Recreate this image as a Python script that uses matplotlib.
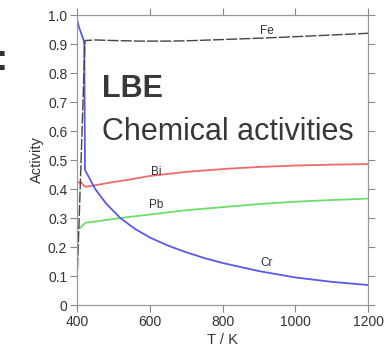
import matplotlib
matplotlib.use("Agg")
import matplotlib.pyplot as plt
import numpy as np

plt.rcParams['font.family'] = ['Liberation Sans', 'DejaVu Sans']

# data
T_fe = [400, 405, 422, 450, 500, 574, 650, 700, 814, 900, 996, 1100, 1200]
a_fe = [0.08, 0.26, 0.912, 0.914, 0.912, 0.910, 0.910, 0.911, 0.916, 0.920, 0.925, 0.931, 0.937]

T_cr = [400, 405, 412, 418, 420, 422, 450, 480, 519, 560, 600, 650, 700, 750, 800, 900, 1000, 1100, 1200]
a_cr = [0.985, 0.96, 0.935, 0.915, 0.90, 0.466, 0.40, 0.35, 0.30, 0.262, 0.233, 0.205, 0.182, 0.162, 0.145, 0.117, 0.095, 0.080, 0.069]

T_bi = [400, 410, 420, 425, 450, 500, 546, 600, 700, 814, 900, 1000, 1100, 1200]
a_bi = [0.42, 0.425, 0.41, 0.408, 0.413, 0.424, 0.433, 0.445, 0.459, 0.470, 0.476, 0.481, 0.484, 0.486]

T_pb = [400, 410, 420, 425, 450, 519, 600, 700, 814, 900, 996, 1100, 1200]
a_pb = [0.264, 0.267, 0.280, 0.284, 0.288, 0.30, 0.312, 0.327, 0.339, 0.348, 0.356, 0.362, 0.367]

labels = {"Fe": (922, 0.945), "Bi": (617, 0.46), "Pb": (617, 0.345), "Cr": (922, 0.145)}

fig = plt.figure(figsize=(3.85, 3.49), dpi=100)
ax = fig.add_axes([0.2, 0.126, 0.756, 0.831])

ax.plot(T_bi, a_bi, color="#ee6b6b", lw=1.3)
ax.plot(T_pb, a_pb, color="#6ddd6d", lw=1.3)
ax.plot(T_cr, a_cr, color="#5a5ae8", lw=1.3)
ax.plot(T_fe, a_fe, color="#444444", lw=1.0, ls=(0, (8, 1.5)))

for name, (x, y) in labels.items():
    ax.text(x, y, name, fontsize=8.5, color="#333333", ha="center", va="center")

ax.set_xlim(400, 1200)
ax.set_ylim(0, 1.0)
ax.set_xticks([400, 600, 800, 1000, 1200])
ax.set_yticks(np.arange(0, 1.01, 0.1))
ax.set_yticklabels(["0"] + ["%.1f" % v for v in np.arange(0.1, 1.01, 0.1)])
ax.tick_params(direction="out", length=5, width=0.8, color="#888888",
               labelsize=10, labelcolor="#333333", top=True, right=True, pad=2)
for s in ax.spines.values():
    s.set_color("#999999")
    s.set_linewidth(0.9)
ax.set_xlabel("T / K", fontsize=10.5, color="#333333", labelpad=3)
ax.set_ylabel("Activity", fontsize=10.5, color="#333333", labelpad=3)

# overlay text from the slide
fig.text(0.264, 0.722, "LBE", fontsize=22, fontweight="bold", color="#383838",
         va="baseline")
fig.text(0.264, 0.599, "Chemical activities", fontsize=22, color="#383838",
         va="baseline")
fig.text(-0.012, 0.8, ":", fontsize=26, fontweight="bold", color="#333333")

fig.savefig("out.png", dpi=100, facecolor="white")
